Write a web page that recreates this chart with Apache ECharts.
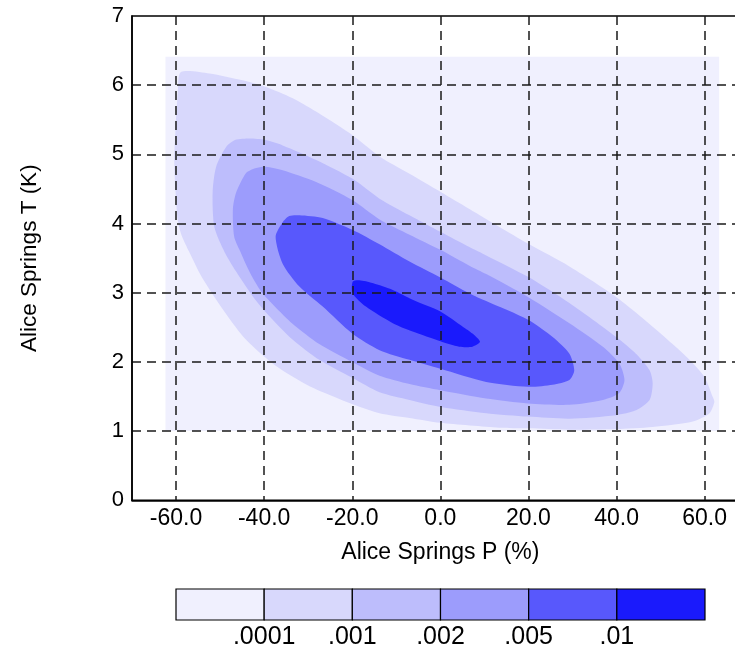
<!DOCTYPE html>
<html>
<head>
<meta charset="utf-8">
<script src="https://cdn.jsdelivr.net/npm/echarts@6/dist/echarts.min.js"></script>
<style>
html,body{margin:0;padding:0;background:#fff;}
#chart{width:735px;height:647px;}
</style>
</head>
<body>
<div id="chart"></div>
<script>
// ---- data (axis values) ----
const xTicks = [-60, -40, -20, 0, 20, 40, 60];
const xTickLabels = ['-60.0', '-40.0', '-20.0', '0.0', '20.0', '40.0', '60.0'];
const yTicks = [0, 1, 2, 3, 4, 5, 6, 7];
const levelLabels = ['.0001', '.001', '.002', '.005', '.01'];
const levelColors = ['#f0f0fe', '#d8d8fc', '#bdbdfc', '#9c9cfc', '#5858fc', '#1a1afc'];

// filled region of lowest level (data domain)
const level0 = [[-62.4, 1.0], [63.3, 1.0], [63.3, 6.41], [-62.4, 6.41]];
// contour > .0001
const level1 = [[-58.9,6.19],[-52.4,6.17],[-44.9,6.07],[-39.9,5.98],[-33.5,5.81],[-27.5,5.59],[-20.0,5.28],[-13.8,4.97],[-7.0,4.72],[0.0,4.46],[6.6,4.21],[13.4,3.95],[19.9,3.71],[29.3,3.38],[39.9,2.94],[48.2,2.51],[55.8,2.08],[59.9,1.79],[61.8,1.50],[62.2,1.42],[61.1,1.26],[57.3,1.14],[48.2,1.06],[39.9,1.03],[29.3,1.02],[19.9,1.04],[13.4,1.05],[0.0,1.12],[-7.0,1.19],[-13.8,1.26],[-19.9,1.39],[-29.7,1.65],[-37.3,1.94],[-44.1,2.32],[-48.6,2.69],[-54.0,3.21],[-57.0,3.59],[-58.8,3.84],[-59.6,4.05],[-60.1,4.44],[-60.4,4.92],[-60.1,5.40],[-59.6,5.88]];
// contour > .001
const level2 = [[-43.3,5.23],[-39.9,5.21],[-35.8,5.13],[-28.2,4.92],[-20.0,4.65],[-13.8,4.36],[-7.0,4.12],[0.0,3.88],[6.6,3.66],[10.4,3.54],[19.9,3.23],[29.3,2.85],[39.9,2.36],[44.4,2.12],[47.5,1.88],[48.2,1.69],[47.5,1.45],[44.4,1.30],[39.9,1.23],[29.3,1.18],[19.9,1.21],[10.4,1.26],[0.0,1.35],[-7.0,1.45],[-13.8,1.56],[-20.0,1.77],[-27.5,2.03],[-33.5,2.32],[-38.8,2.66],[-42.6,2.95],[-46.4,3.31],[-49.0,3.59],[-51.3,3.95],[-51.7,4.44],[-50.9,4.82],[-48.6,5.11],[-46.5,5.21]];
// contour > .002
const level3 = [[-39.6,4.82],[-35.8,4.77],[-28.2,4.60],[-20.0,4.34],[-13.8,4.06],[-7.0,3.84],[0.0,3.62],[6.6,3.39],[10.4,3.27],[19.9,2.94],[29.3,2.56],[36.9,2.22],[40.6,1.98],[41.8,1.74],[40.6,1.55],[36.9,1.45],[29.3,1.38],[19.9,1.40],[10.4,1.47],[0.0,1.59],[-7.0,1.68],[-13.8,1.80],[-20.0,2.00],[-27.5,2.26],[-33.5,2.55],[-37.7,2.81],[-40.6,3.01],[-43.3,3.30],[-45.6,3.62],[-46.8,3.81],[-47.1,4.20],[-46.4,4.44],[-44.1,4.73],[-42.0,4.80]];
// contour > .005
const level4 = [[-32.0,4.12],[-26.7,4.08],[-20.0,3.91],[-13.8,3.70],[-7.0,3.45],[0.0,3.22],[6.6,2.99],[10.4,2.88],[19.9,2.61],[25.5,2.36],[29.3,2.12],[30.4,1.88],[29.3,1.74],[25.5,1.67],[19.9,1.64],[10.4,1.71],[0.0,1.90],[-7.0,2.03],[-13.8,2.17],[-20.0,2.41],[-26.7,2.80],[-32.0,3.09],[-35.8,3.42],[-37.4,3.81],[-35.8,4.02],[-34.3,4.11]];
// contour > .01
const level5 = [[-19.9,3.16],[-18.4,3.18],[-15.4,3.14],[-10.8,3.04],[-6.3,2.90],[0.0,2.73],[5.1,2.51],[7.3,2.41],[9.0,2.29],[7.3,2.22],[4.3,2.22],[0.0,2.30],[-6.3,2.44],[-10.8,2.56],[-16.9,2.80],[-19.9,2.99]];

const regions = [level0, level1, level2, level3, level4, level5];

// ---- chart ----
const FONT = '"Liberation Sans", Arial, Helvetica, sans-serif';
const chart = echarts.init(document.getElementById('chart'), null, {renderer: 'canvas'});

const DASH = [9, 6];
const GRIDCOLOR = '#1a1a1a';

const option = {
  backgroundColor: '#ffffff',
  animation: false,
  textStyle: {fontFamily: FONT},
  grid: [
    {left: 132, top: 16, width: 616.7, height: 484.3, outerBoundsMode: 'none', containLabel: false,
     show: true, borderColor: '#000', borderWidth: 1.5, backgroundColor: 'rgba(0,0,0,0)'},
    {left: 176, top: 589, width: 529, height: 31, outerBoundsMode: 'none', containLabel: false}
  ],
  xAxis: [
    {
      gridIndex: 0, type: 'value', min: -70, max: 70, interval: 10, z: 10,
      name: 'Alice Springs P (%)', nameLocation: 'middle', nameGap: 41,
      nameTextStyle: {fontFamily: FONT, fontSize: 23, color: '#000'},
      axisLine: {show: true, onZero: false, lineStyle: {color: '#000', width: 1.5}},
      axisTick: {show: false},
      axisLabel: {
        fontFamily: FONT, fontSize: 23, color: '#000', margin: 7, hideOverlap: false,
        formatter: function (v) { const k = xTicks.indexOf(Math.round(v)); return k >= 0 ? xTickLabels[k] : ''; }
      },
      splitLine: {show: true, showMinLine: true, showMaxLine: true, lineStyle: {color: ['rgba(0,0,0,0)', GRIDCOLOR], type: DASH, width: 1.5}}
    },
    {
      gridIndex: 1, type: 'value', min: 0, max: 6, interval: 1,
      axisLine: {show: false}, axisTick: {show: false}, splitLine: {show: false},
      axisLabel: {
        fontFamily: FONT, fontSize: 25, color: '#000', margin: 5, hideOverlap: false,
        formatter: function (v) { const k = Math.round(v); return (k >= 1 && k <= levelLabels.length) ? levelLabels[k - 1] : ''; }
      }
    }
  ],
  yAxis: [
    {
      gridIndex: 0, type: 'value', min: 0, max: 7, interval: 1, z: 10,
      name: 'Alice Springs T (K)', nameLocation: 'middle', nameGap: 91,
      nameTextStyle: {fontFamily: FONT, fontSize: 22.5, color: '#000'},
      axisLine: {show: true, onZero: false, lineStyle: {color: '#000', width: 1.5}},
      axisTick: {show: false},
      axisLabel: {
        fontFamily: FONT, fontSize: 22, color: '#000', margin: 8,
        formatter: function (v) { return yTicks.indexOf(Math.round(v)) >= 0 ? String(Math.round(v)) : ''; }
      },
      splitLine: {show: true, lineStyle: {color: ['rgba(0,0,0,0)', GRIDCOLOR, GRIDCOLOR, GRIDCOLOR, GRIDCOLOR, GRIDCOLOR, GRIDCOLOR, 'rgba(0,0,0,0)'], type: DASH, width: 1.5}}
    },
    {gridIndex: 1, type: 'value', min: 0, max: 1, show: false}
  ],
  series: [
    {
      type: 'custom',
      xAxisIndex: 0, yAxisIndex: 0,
      z: 2,
      silent: true,
      data: regions.map(function (r, i) { return [i]; }),
      renderItem: function (params, api) {
        const i = params.dataIndex;
        const pts = regions[i].map(function (p) { return api.coord(p); });
        return {
          type: 'polygon',
          shape: {points: pts, smooth: i === 0 ? 0 : 0.25},
          style: {fill: levelColors[i], stroke: null}
        };
      }
    },
    {
      type: 'custom',
      xAxisIndex: 1, yAxisIndex: 1,
      silent: true,
      data: levelColors.map(function (c, i) { return [i]; }),
      renderItem: function (params, api) {
        const i = params.dataIndex;
        const p0 = api.coord([i, 1]);
        const p1 = api.coord([i + 1, 0]);
        return {
          type: 'rect',
          shape: {x: p0[0], y: p0[1], width: p1[0] - p0[0], height: p1[1] - p0[1]},
          style: {fill: levelColors[i], stroke: '#000', lineWidth: 1.2}
        };
      }
    }
  ]
};
chart.setOption(option);
</script>
</body>
</html>
